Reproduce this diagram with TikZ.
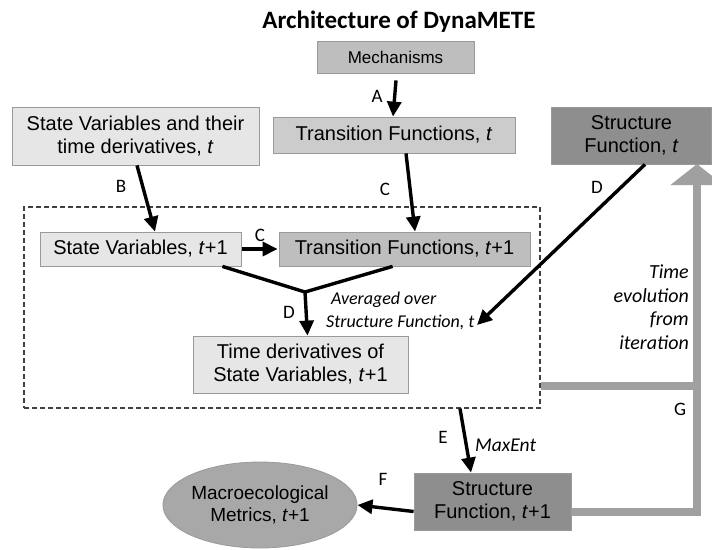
\documentclass[tikz,border=0pt]{standalone}
\usepackage{fontspec}
\setmainfont{Liberation Sans}
\newfontfamily\calfont{Carlito}
\usetikzlibrary{arrows.meta,shapes.geometric,calc}
\definecolor{light}{HTML}{E6E6E6}
\definecolor{midA}{HTML}{CCCCCC}
\definecolor{midB}{HTML}{BEBEBE}
\definecolor{dark}{HTML}{8E8E8E}
\definecolor{ellc}{HTML}{A8A8A8}
\definecolor{edge}{HTML}{9A9A9A}
\definecolor{gline}{HTML}{A0A0A0}
\begin{document}
\begin{tikzpicture}[x=1pt,y=-1pt,
  box/.style={draw=edge, line width=0.8pt, inner sep=0pt, align=center,
    font=\fontsize{20}{23}\selectfont},
  arr/.style={line width=3.4pt, -{Triangle[length=15pt,width=14pt]}},
  seg/.style={line width=3.4pt},
  lab/.style={font=\calfont\fontsize{19}{21}\selectfont, inner sep=0pt},
  itl/.style={font=\calfont\itshape\fontsize{18}{23.5}\selectfont, inner sep=0pt},
  grayline/.style={draw=gline, line width=8pt}]
\useasboundingbox (0,0) rectangle (712,549);

\node[font=\calfont\bfseries\fontsize{25}{27}\selectfont] (title) at (399,22) {Architecture of DynaMETE};

\node[draw=black!75, dashed, dash pattern=on 5pt off 3pt, line width=1.1pt,
  minimum width=516pt, minimum height=201pt, inner sep=0pt] (dbox) at (282,307.5) {};

\node[box, fill=midB, minimum width=157pt, minimum height=32pt,
  font=\fontsize{17}{19}\selectfont] (mech) at (395.5,57) {Mechanisms};
\node[box, fill=light, minimum width=247pt, minimum height=58pt] (svt) at (135.5,136)
  {State Variables and their\\time derivatives, \textit{t}};
\node[box, fill=midA, minimum width=242pt, minimum height=36pt] (tft) at (394,135)
  {Transition Functions, \textit{t}};
\node[box, fill=dark, minimum width=160pt, minimum height=57pt] (sft) at (631.5,135.5)
  {Structure\\Function, \textit{t}};
\node[box, fill=light, minimum width=201pt, minimum height=34pt] (svt1) at (140.5,249)
  {State Variables, \textit{t}+1};
\node[box, fill=midB, minimum width=251pt, minimum height=34pt] (tft1) at (404.5,249)
  {Transition Functions, \textit{t}+1};
\node[box, fill=light, minimum width=215pt, minimum height=57pt] (tdsv) at (300.5,364.5)
  {Time derivatives of\\State Variables, \textit{t}+1};
\node[box, fill=dark, minimum width=157pt, minimum height=57pt] (sft1) at (492.5,501.5)
  {Structure\\Function, \textit{t}+1};
\node[box, ellipse, fill=ellc, minimum width=168pt, minimum height=86pt,
  font=\fontsize{19}{22}\selectfont] (ell) at (260,505)
  {Macroecological\\Metrics, \textit{t}+1};

% gray feedback loop
\coordinate (gtop) at (697,164);
\draw[grayline] (dbox.east |- 0,386) -- (gtop |- 0,386);
\draw[grayline, line join=miter, -{Triangle[length=21pt,width=52pt]}]
  ([yshift=-10.5pt]sft1.east) -| (gtop);

% black arrows
\draw[arr] ([shift={(0.5pt,-7pt)}]mech.south) -- ([xshift=-1pt]tft.north);
\draw[arr] ([xshift=1.5pt]svt.south) -- ([xshift=14.5pt]svt1.north);
\draw[arr] ([xshift=12pt]tft.south) -- ([xshift=10.5pt]tft1.north);
\draw[arr] ([xshift=1pt]svt1.east) -- ([xshift=-1pt]tft1.west);
\coordinate (J) at (305,292);
\draw[seg, line join=miter] ([xshift=-19pt]svt1.south east) -- (J) -- ([xshift=114pt]tft1.south west);
\draw[arr] (J) -- ([xshift=7pt]tdsv.north);
\coordinate (avg) at (477,325);
\draw[arr] ([xshift=13.5pt]sft.south) -- (avg);
\draw[arr] ([xshift=178pt]dbox.south) -- ([xshift=-21.5pt]sft1.north);
\draw[arr] ([yshift=-10pt]sft1.west) -- (ell.east);

% labels
\node[lab] (lA) at (377,96) {A};
\node[lab] (lB) at (121,186) {B};
\node[lab] (lC1) at (385,189) {C};
\node[lab] (lC2) at (260,235) {C};
\node[lab] (lD1) at (289,312) {D};
\node[lab] (lD2) at (597,187) {D};
\node[lab] (lE) at (443,437) {E};
\node[lab] (lF) at (383,479) {F};
\node[lab] (lG) at (680,409) {G};
\node[itl, anchor=west] (avg1) at (331,300) {Averaged over};
\node[itl, anchor=west] (avg2) at (326,322) {Structure Function, t};
\node[itl, anchor=west, font=\calfont\itshape\fontsize{19.5}{22}\selectfont] (mx) at (475,445) {MaxEnt};
\node[itl, anchor=north east, align=right, font=\calfont\itshape\fontsize{20}{23.5}\selectfont] (tev) at (689,265)
  {Time\\evolution\\from\\iteration};
\end{tikzpicture}
\end{document}
